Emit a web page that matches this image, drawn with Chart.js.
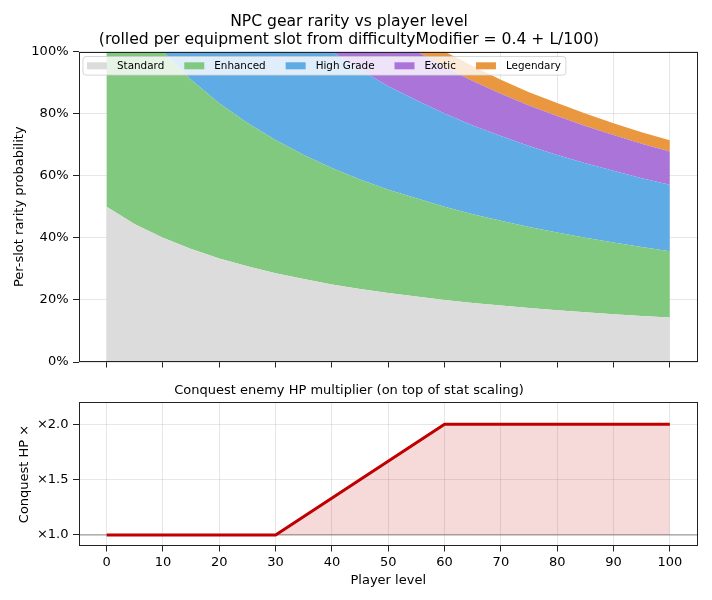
<!DOCTYPE html>
<html lang="en">
<head>
<meta charset="UTF-8">
<title>NPC gear rarity vs player level</title>
<script src="https://cdn.jsdelivr.net/npm/chart.js@4.4.1/dist/chart.umd.min.js"></script>
<style>
  body { margin: 0; background: #fff; }
  #wrap { position: relative; width: 712px; height: 600px; }
  canvas { position: absolute; left: 0; }
  #top { top: 0; }
  #bottom { top: 380px; }
</style>
</head>
<body>
<div id="wrap">
  <canvas id="top" width="712" height="380"></canvas>
  <canvas id="bottom" width="712" height="220"></canvas>
</div>
<script>
// per-slot rarity shares, read every 5 levels
var levels = [0, 5, 10, 15, 20, 25, 30, 35, 40, 45, 50, 55, 60, 65, 70, 75, 80, 85, 90, 95, 100];
var standard  = [0.500, 0.444, 0.400, 0.364, 0.333, 0.308, 0.286, 0.267, 0.250, 0.235, 0.222, 0.211, 0.200, 0.190, 0.182, 0.174, 0.167, 0.160, 0.154, 0.148, 0.143];
var enhanced  = [0.500, 0.556, 0.600, 0.545, 0.500, 0.462, 0.429, 0.400, 0.375, 0.353, 0.333, 0.316, 0.300, 0.286, 0.273, 0.261, 0.250, 0.240, 0.231, 0.222, 0.214];
var highGrade = [0, 0, 0, 0.091, 0.167, 0.231, 0.286, 0.333, 0.375, 0.353, 0.333, 0.316, 0.300, 0.286, 0.273, 0.261, 0.250, 0.240, 0.231, 0.222, 0.214];
var exotic    = [0, 0, 0, 0, 0, 0, 0, 0, 0, 0.059, 0.111, 0.158, 0.150, 0.143, 0.136, 0.130, 0.125, 0.120, 0.115, 0.111, 0.107];
var legendary = [0, 0, 0, 0, 0, 0, 0, 0, 0, 0, 0, 0, 0.050, 0.048, 0.045, 0.043, 0.042, 0.040, 0.038, 0.037, 0.036];

// conquest HP multiplier
var hpLevels = [0, 30, 60, 100];
var hpMult = [1.0, 1.0, 2.0, 2.0];
var hpBase = 1.0;

var levelTicks = [0, 10, 20, 30, 40, 50, 60, 70, 80, 90, 100];
var pctTicks = [0, 0.2, 0.4, 0.6, 0.8, 1.0];
var hpTicks = [1.0, 1.5, 2.0];

Chart.defaults.font.family = '"DejaVu Sans", sans-serif';
Chart.defaults.color = '#000';

var gridColor = 'rgba(176,176,176,0.3)';
var spineColor = '#222';

function pts(xs, ys) {
    return xs.map(function (x, i) { return { x: x, y: ys[i] }; });
}

function fixTicks(list) {
    return function (scale) {
        scale.ticks = list.map(function (v) { return { value: v }; });
    };
}

// matplotlib-like box around the plot
var framePlugin = {
    id: 'frame',
    afterDraw: function (chart) {
        var a = chart.chartArea, ctx = chart.ctx;
        ctx.save();
        ctx.strokeStyle = spineColor;
        ctx.lineWidth = 1;
        ctx.strokeRect(Math.round(a.left) + 0.5, Math.round(a.top) + 0.5,
            Math.round(a.right) - Math.round(a.left) - 1, Math.round(a.bottom) - Math.round(a.top) - 1);
        ctx.restore();
    }
};

// legend drawn inside the plot, one row
var innerLegend = {
    id: 'innerLegend',
    afterDraw: function (chart) {
        var ctx = chart.ctx, a = chart.chartArea;
        var sets = chart.data.datasets;
        ctx.save();
        ctx.font = '10.4px "DejaVu Sans"';
        var sw = 20, gap = 10, colGap = 20, padL = 4, padR = 5;
        var x0 = a.left + 4.5, y0 = a.top + 5, h = 18.6;
        var w = padL + padR;
        sets.forEach(function (ds, i) {
            w += sw + gap + ctx.measureText(ds.label).width;
            if (i < sets.length - 1) w += colGap;
        });
        ctx.beginPath();
        ctx.roundRect(x0, y0, w, h, 3);
        ctx.fillStyle = 'rgba(255,255,255,0.8)';
        ctx.fill();
        ctx.strokeStyle = 'rgba(204,204,204,0.8)';
        ctx.lineWidth = 1;
        ctx.stroke();
        var x = x0 + padL, cy = y0 + h / 2;
        ctx.textBaseline = 'middle';
        sets.forEach(function (ds) {
            ctx.fillStyle = ds.backgroundColor;
            ctx.fillRect(x, cy - 3.5, sw, 7);
            x += sw + gap;
            ctx.fillStyle = '#000';
            ctx.fillText(ds.label, x, cy);
            x += ctx.measureText(ds.label).width + colGap;
        });
        ctx.restore();
    }
};

function area(label, values, color, fill) {
    return {
        label: label,
        data: pts(levels, values),
        backgroundColor: color,
        borderWidth: 0,
        pointRadius: 0,
        fill: fill
    };
}

new Chart(document.getElementById('top').getContext('2d'), {
    type: 'line',
    data: {
        datasets: [
            area('Standard', standard, '#dcdcdc', 'origin'),
            area('Enhanced', enhanced, '#81c97f', '-1'),
            area('High Grade', highGrade, '#5eabe5', '-1'),
            area('Exotic', exotic, '#ab74d9', '-1'),
            area('Legendary', legendary, '#ea983f', '-1')
        ]
    },
    options: {
        responsive: false,
        animation: false,
        layout: { padding: { left: 0, right: 14, top: 0, bottom: 0 } },
        plugins: {
            legend: { display: false },
            tooltip: { enabled: false },
            title: {
                display: true,
                text: ['NPC gear rarity vs player level', '(rolled per equipment slot from difficultyModifier = 0.4 + L/100)'],
                font: { size: 15.6, weight: 'normal', lineHeight: 1.17 },
                color: '#000',
                padding: { top: 13, bottom: 2 }
            }
        },
        scales: {
            x: {
                type: 'linear', min: -5, max: 105, z: 1,
                afterBuildTicks: fixTicks(levelTicks),
                afterFit: function (s) { s.height = 18; },
                ticks: { display: false },
                grid: { color: gridColor, tickColor: spineColor, tickLength: 5.5, lineWidth: 1 },
                border: { display: false }
            },
            y: {
                stacked: true, min: 0, max: 1, z: 1,
                afterBuildTicks: fixTicks(pctTicks),
                afterFit: function (s) { s.width = 78.5; },
                ticks: {
                    font: { size: 13 }, padding: 4.5,
                    callback: function (v) { return Math.round(v * 100) + '%'; }
                },
                grid: { color: gridColor, tickColor: spineColor, tickLength: 5.5, lineWidth: 1 },
                border: { display: false },
                title: { display: true, text: 'Per-slot rarity probability', font: { size: 13 }, padding: { top: 11.5, bottom: 0 } }
            }
        }
    },
    plugins: [framePlugin, innerLegend]
});

new Chart(document.getElementById('bottom').getContext('2d'), {
    type: 'line',
    data: {
        datasets: [
            {
                label: 'Conquest HP',
                data: pts(hpLevels, hpMult),
                borderColor: '#c00000',
                borderWidth: 3,
                backgroundColor: 'rgba(192,0,0,0.15)',
                pointRadius: 0,
                fill: { value: hpBase }
            },
            {
                label: 'base',
                data: pts([-5, 105], [hpBase, hpBase]),
                borderColor: 'rgba(128,128,128,0.9)',
                borderWidth: 1,
                pointRadius: 0,
                fill: false
            }
        ]
    },
    options: {
        responsive: false,
        animation: false,
        layout: { padding: { left: 0, right: 14, top: 0, bottom: 0 } },
        plugins: {
            legend: { display: false },
            tooltip: { enabled: false },
            title: {
                display: true,
                text: 'Conquest enemy HP multiplier (on top of stat scaling)',
                font: { size: 13, weight: 'normal', lineHeight: 1.2 },
                color: '#000',
                padding: { top: 2.8, bottom: 3.6 }
            }
        },
        scales: {
            x: {
                type: 'linear', min: -5, max: 105, z: 1,
                afterBuildTicks: fixTicks(levelTicks),
                afterFit: function (s) { s.height = 54; },
                ticks: { font: { size: 13 }, padding: 3, maxRotation: 0 },
                grid: { color: gridColor, tickColor: spineColor, tickLength: 5.5, lineWidth: 1 },
                border: { display: false },
                title: { display: true, text: 'Player level', font: { size: 13 }, padding: { top: 0, bottom: 11.5 } }
            },
            y: {
                min: 0.9, max: 2.2, z: 1,
                afterBuildTicks: fixTicks(hpTicks),
                afterFit: function (s) { s.width = 78.5; },
                ticks: {
                    font: { size: 13 }, padding: 4.5,
                    callback: function (v) { return '\u00d7' + v.toFixed(1); }
                },
                grid: { color: gridColor, tickColor: spineColor, tickLength: 5.5, lineWidth: 1 },
                border: { display: false },
                title: { display: true, text: 'Conquest HP \u00d7', font: { size: 13 }, padding: { top: 16.5, bottom: 0 } }
            }
        }
    },
    plugins: [framePlugin]
});
</script>
</body>
</html>
